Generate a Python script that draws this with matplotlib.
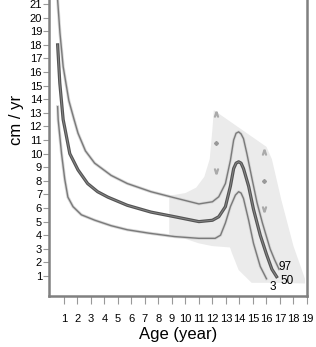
import matplotlib
matplotlib.use('Agg')
import matplotlib.pyplot as plt

plt.rcParams['font.family'] = ['Liberation Sans', 'DejaVu Sans']

# percentile curves (age in years, velocity in cm/yr)
age_97 = [0.5, 0.54, 0.71, 0.95, 1.37, 1.76, 2.05, 2.6, 3.28, 4.5, 5.7, 7.45, 9.2, 11.0, 12.0,
          12.47, 12.96, 13.33, 13.57, 13.75, 13.94, 14.12, 14.3, 14.55, 14.92, 15.3, 15.7,
          16.27, 16.6, 16.93]
v_97 = [22.5, 21.3, 18.9, 16.4, 13.9, 12.5, 11.5, 10.2, 9.3, 8.4, 7.8, 7.2, 6.75, 6.3, 6.46,
        6.83, 7.8, 9.5, 11.0, 11.5, 11.6, 11.45, 11.1, 10.0, 8.2, 6.4, 4.9,
        3.0, 2.2, 1.5]

age_50 = [0.54, 0.7, 0.95, 1.07, 1.44, 2.05, 2.76, 3.5, 4.26, 5.7, 7.45, 9.2, 11.0, 12.0,
          12.47, 12.96, 13.33, 13.57, 13.75, 13.94, 14.12, 14.3, 14.68, 15.04, 15.54, 16.0,
          16.4, 16.75]
v_50 = [18.0, 15.2, 12.5, 11.9, 10.0, 8.8, 7.8, 7.2, 6.8, 6.2, 5.7, 5.36, 5.0, 5.1,
        5.36, 6.1, 7.6, 8.9, 9.3, 9.4, 9.3, 8.9, 7.6, 5.9, 4.0, 2.6,
        1.5, 0.95]

age_3 = [0.54, 0.58, 0.83, 1.07, 1.3, 1.68, 2.3, 3.3, 4.5, 5.7, 7.3, 9.2, 11.0, 12.2,
         12.6, 12.96, 13.33, 13.7, 13.94, 14.12, 14.3, 14.68, 15.04, 15.54, 16.0]
v_3 = [13.45, 12.5, 10.0, 8.1, 6.8, 6.1, 5.5, 5.1, 4.7, 4.4, 4.15, 3.9, 3.77, 3.77,
       4.0, 4.9, 6.1, 6.95, 7.2, 7.1, 6.7, 5.1, 3.4, 1.7, 0.8]

# shaded reference band
band_age = [8.8, 10.0, 10.8, 11.4, 11.8, 12.0, 12.1, 16.0, 16.4, 17.1, 18.0, 18.85,
            18.85, 16.5, 14.9, 13.94, 13.45, 13.3, 12.0, 11.0, 9.8, 8.8]
band_v = [6.9, 7.1, 7.5, 8.3, 9.6, 11.8, 13.2, 10.5, 9.6, 6.6, 3.2, 0.8,
          0.45, 0.5, 0.5, 1.44, 2.67, 3.1, 3.2, 3.4, 3.8, 4.1]

# markers on the band
mark_age = [12.25, 15.85]
mark_hi = [12.9, 10.1]
mark_mid = [10.8, 8.0]
mark_lo = [8.7, 5.9]

xticks = list(range(1, 20))
yticks = list(range(1, 22))

fig = plt.figure(figsize=(3.16, 3.47), dpi=100)
ax = fig.add_axes([0.155, 0.147, 0.8165, 0.853])

ax.fill(band_age, band_v, color='#ebebeb', lw=0, zorder=1)

# thin percentile lines with a soft halo
for a, v in [(age_97, v_97), (age_3, v_3)]:
    ax.plot(a, v, color='#d8d8d8', lw=2.2, zorder=2)
    ax.plot(a, v, color='#7a7a7a', lw=1.0, zorder=3)
# median line, drawn as a darker double stroke
ax.plot(age_50, v_50, color='#555555', lw=2.3, zorder=2)
ax.plot(age_50, v_50, color='#8a8a8a', lw=0.6, zorder=3)

ax.plot(mark_age, mark_hi, ls='none', marker='$\\wedge$', ms=3.5, color='#aaaaaa', zorder=4)
ax.plot(mark_age, mark_mid, ls='none', marker='D', ms=2.0, color='#999999', zorder=4)
ax.plot(mark_age, mark_lo, ls='none', marker='$\\vee$', ms=3.5, color='#aaaaaa', zorder=4)

ax.text(17.4, 1.65, '97', fontsize=8.5, ha='center', va='center')
ax.text(17.5, 0.6, '50', fontsize=8.5, ha='center', va='center')
ax.text(16.45, 0.2, '3', fontsize=8.5, ha='center', va='center')

ax.set_xlim(-0.1, 18.85)
ax.set_ylim(-0.47, 21.3)
ax.set_xticks(xticks)
ax.set_yticks(yticks)
ax.tick_params(axis='both', colors='#999999', labelcolor='black', labelsize=8, width=0.8)
ax.tick_params(axis='x', length=6, pad=7)
ax.tick_params(axis='y', length=4, pad=1)

for side in ['left', 'bottom', 'right']:
    ax.spines[side].set_color('#808080')
    ax.spines[side].set_linewidth(1.8)
ax.spines['top'].set_visible(False)

ax.set_xlabel('Age (year)', fontsize=12, labelpad=2)
ax.set_ylabel('cm / yr', fontsize=12)
ax.yaxis.set_label_coords(-0.095, 0.595)

fig.savefig('out.png', dpi=100, facecolor='white')
